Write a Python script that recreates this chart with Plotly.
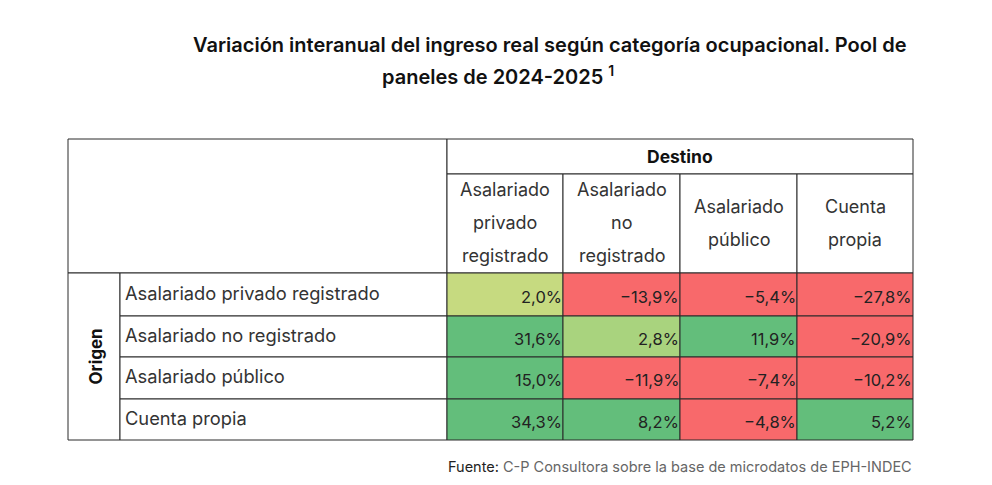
import plotly.graph_objects as go

#-----DATA
origen = ["Asalariado privado registrado", "Asalariado no registrado",
          "Asalariado público", "Cuenta propia"]
destino = [["Asalariado", "privado", "registrado"],
           ["Asalariado", "no", "registrado"],
           ["Asalariado", "público"],
           ["Cuenta", "propia"]]
# variación interanual (%) fila = origen, columna = destino
valores = [[2.0, -13.9, -5.4, -27.8],
           [31.6, 2.8, 11.9, -20.9],
           [15.0, -11.9, -7.4, -10.2],
           [34.3, 8.2, -4.8, 5.2]]

titulo_1 = "Variación interanual del ingreso real según categoría ocupacional. Pool de"
titulo_2 = "paneles de 2024-2025 <sup>1</sup>"
fuente = "C-P Consultora sobre la base de microdatos de EPH-INDEC"

#-----LAYOUT (pixel grid, page coordinates)
W, H = 992, 485
OFF = 8                                        # default page body margin
col_x = [68, 120, 447, 563, 680, 797, 913]     # column edges
row_y = [139, 174, 273, 316, 357, 399, 440]    # row edges
FONT = "Inter"
LINE = "#2b2b2b"


def color_de(v):
    if v < 0:
        return "#F8696B"
    if v < 2.5:
        return "#C6DA80"
    if v < 5:
        return "#A9D37E"
    return "#63BE7B"


fig = go.Figure()
shapes = []
annots = []


def cell(x0, x1, y0, y1, fill="white"):
    shapes.append(dict(type="rect", xref="x", yref="y", x0=x0, x1=x1, y0=y0, y1=y1,
                       fillcolor=fill, line=dict(color=LINE, width=1), layer="below"))


def text(x, y, s, size=15, anchor="center", color="#222", weight=400, angle=0):
    annots.append(dict(x=x, y=y, xref="x", yref="y", text=s, showarrow=False,
                       xanchor=anchor, yanchor="middle", textangle=angle,
                       font=dict(family=FONT, size=size, color=color, weight=weight)))


# top-left empty block
cell(col_x[0], col_x[2], row_y[0], row_y[2])
# Destino header
cell(col_x[2], col_x[6], row_y[0], row_y[1])
text((col_x[2] + col_x[6]) / 2, (row_y[0] + row_y[1]) / 2, "Destino", size=17.5, weight=700, color="#111")
# Origen side
cell(col_x[0], col_x[1], row_y[2], row_y[6])
text((col_x[0] + col_x[1]) / 2 + 1, (row_y[2] + row_y[6]) / 2, "Origen", size=17, weight=700,
     color="#111", angle=-90)

# column headers
for j, lineas in enumerate(destino):
    x0, x1 = col_x[j + 2], col_x[j + 3]
    cell(x0, x1, row_y[1], row_y[2])
    yc = (row_y[1] + row_y[2]) / 2
    n = len(lineas)
    for k, s in enumerate(lineas):
        text((x0 + x1) / 2, yc + (k - (n - 1) / 2) * 33 - 1, s, size=18, color="#333")

# rows
for i, nombre in enumerate(origen):
    y0, y1 = row_y[i + 2], row_y[i + 3]
    cell(col_x[1], col_x[2], y0, y1)
    text(col_x[1] + 3, (y0 + y1) / 2 - 2, nombre, size=18.3, anchor="left", color="#333")
    for j, v in enumerate(valores[i]):
        x0, x1 = col_x[j + 2], col_x[j + 3]
        cell(x0, x1, y0, y1, color_de(v))
        s = ("%.1f%%" % v).replace(".", ",").replace("-", "\u2212")
        text(x1 + 1, (y0 + y1) / 2 + 2, s, size=16.5, anchor="right")

# title
annots.append(dict(x=550, y=45, xref="x", yref="y", text=titulo_1, showarrow=False,
                   xanchor="center", yanchor="middle",
                   font=dict(family=FONT, size=20, color="#111", weight=600)))
annots.append(dict(x=380, y=75, xref="x", yref="y", text=titulo_2, showarrow=False,
                   xanchor="left", yanchor="middle",
                   font=dict(family=FONT, size=20, color="#111", weight=600)))
# source
annots.append(dict(x=914, y=466, xref="x", yref="y",
                   text="<span style='color:#222'>Fuente:</span> " + fuente,
                   showarrow=False, xanchor="right", yanchor="middle",
                   font=dict(family=FONT, size=14.5, color="#666")))

fig.update_layout(
    width=W, height=H,
    margin=dict(l=0, r=0, t=0, b=0),
    paper_bgcolor="white", plot_bgcolor="white",
    xaxis=dict(range=[OFF, W + OFF], visible=False, fixedrange=True),
    yaxis=dict(range=[H + OFF, OFF], visible=False, fixedrange=True),
    shapes=shapes, annotations=annots,
    showlegend=False,
)

fig.write_html("out.html")
